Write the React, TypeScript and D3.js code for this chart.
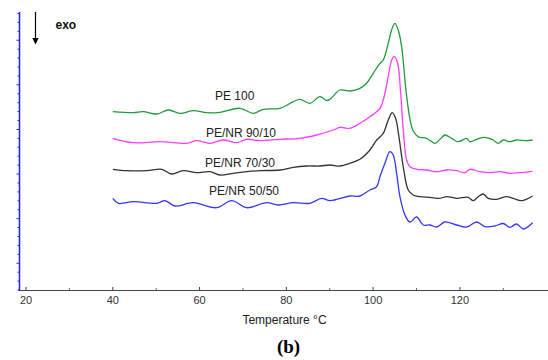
import React from "react";
import * as d3 from "d3";

// Temperature (°C) and heat-flow (arbitrary units, exo down)
const pe100: [number, number][] = [
  [40, 17.83], [44.72, 17.73], [47.03, 17.83], [50.12, 17.6], [52.79, 18.0], [55.48, 17.67],
  [58.55, 17.93], [61.64, 17.73], [64.7, 17.77], [69.31, 18.17], [72.37, 17.67], [74.68, 18.07],
  [78.53, 18.17], [81.59, 18.83], [83.13, 19.07], [85.44, 18.67], [87.74, 19.33], [89.28, 18.95],
  [90.05, 19.07], [92.35, 20.0], [94.65, 19.9], [96.96, 20.17], [98.5, 20.67], [100.02, 21.67],
  [101.57, 22.67], [102.33, 23.0], [103.48, 24.67], [104.26, 26.0], [105.02, 26.67], [105.78, 26.0],
  [106.57, 24.33], [107.33, 21.0], [107.72, 19.4], [108.48, 17.1], [109.24, 15.9], [110.39, 15.33],
  [112.33, 15.17], [114.24, 14.67], [115.39, 15.07], [116.54, 15.5], [118.09, 15.17], [119.61, 14.83],
  [121.54, 15.17], [122.3, 14.83], [123.85, 15.07], [125.76, 15.27], [127.67, 15.0], [128.83, 14.67],
  [129.98, 15.0], [131.52, 14.83], [133.06, 15.0], [135.37, 14.93], [136.75, 15.0],
];
const penr9010: [number, number][] = [
  [40, 15.17], [44.72, 14.73], [50.88, 14.83], [57.03, 14.67], [59.33, 14.93], [62.4, 14.67],
  [65.46, 15.0], [68.55, 14.73], [70.85, 15.07], [73.92, 14.93], [78.53, 15.07], [83.13, 15.17],
  [86.98, 15.5], [90.81, 16.0], [92.35, 16.27], [94.65, 16.17], [96.96, 16.67], [99.26, 17.33],
  [101.57, 18.17], [102.33, 19.0], [103.48, 21.33], [104.26, 23.0], [104.86, 23.33], [105.65, 22.67],
  [106.34, 19.67], [106.94, 16.0], [107.72, 13.0], [108.48, 12.33], [110.02, 12.07], [112.33, 12.0],
  [114.63, 11.83], [116.93, 12.0], [119.24, 11.93], [121.15, 11.73], [122.3, 12.07], [124.61, 11.83],
  [126.91, 11.73], [129.22, 11.83], [131.52, 11.67], [133.82, 11.73], [136.13, 11.83], [136.75, 11.9],
];
const penr7030: [number, number][] = [
  [40, 12.07], [43.2, 11.93], [47.81, 11.93], [51.27, 12.07], [53.57, 11.6], [56.24, 11.93],
  [59.33, 11.73], [62.4, 11.83], [64.7, 11.5], [67.76, 11.67], [70.85, 11.83], [73.92, 11.93],
  [78.53, 12.0], [81.59, 12.27], [84.68, 12.4], [87.74, 12.4], [90.05, 12.5], [92.35, 12.4],
  [94.65, 12.67], [96.96, 13.07], [99.26, 14.0], [100.81, 15.0], [102.33, 15.67], [103.48, 17.0],
  [104.4, 17.73], [105.18, 17.17], [105.94, 15.33], [106.94, 12.33], [108.09, 10.0], [109.24, 9.5],
  [110.78, 9.33], [113.09, 9.27], [115.39, 9.17], [116.93, 9.33], [119.24, 9.17], [121.91, 9.27],
  [123.07, 8.93], [124.22, 9.33], [125.37, 9.6], [126.52, 9.17], [128.46, 9.07], [130.76, 9.33],
  [132.28, 9.17], [134.22, 8.93], [136.75, 9.4],
];
const penr5050: [number, number][] = [
  [40, 9.17], [41.27, 8.67], [44.72, 8.83], [50.12, 8.67], [52.03, 8.93], [54.33, 8.4],
  [58.55, 8.73], [63.94, 8.23], [67.4, 8.93], [70.85, 8.23], [75.46, 8.73], [78.13, 8.5],
  [81.59, 8.73], [85.44, 8.67], [88.13, 9.17], [90.05, 8.93], [94.65, 9.4], [96.96, 9.4],
  [99.26, 10.0], [100.81, 10.33], [101.57, 11.33], [102.72, 12.67], [103.87, 13.83], [104.63, 13.5],
  [105.41, 11.67], [106.18, 9.33], [107.33, 7.5], [108.48, 6.8], [110.02, 7.3], [111.54, 6.5],
  [113.09, 6.5], [114.63, 6.3], [116.54, 6.8], [119.24, 6.5], [121.54, 6.3], [123.85, 6.8],
  [125.76, 6.33], [128.06, 6.4], [129.98, 6.65], [131.52, 6.27], [133.06, 6.6], [134.59, 6.1],
  [136.75, 6.73],
];

const seriesNames = ["PE 100", "PE/NR 90/10", "PE/NR 70/30", "PE/NR 50/50"];
const seriesData = [pe100, penr9010, penr7030, penr5050];
const seriesColors = ["#1f9a3c", "#ff3cff", "#333333", "#3535ff"];
// label anchors (temperature, heat-flow) for the in-plot annotations
const labelAnchors: [number, number][] = [[63.55, 19.05], [61.47, 15.35], [61.24, 12.35], [62.17, 9.5]];

const xMajorTicks = [20, 40, 60, 80, 100, 120];
const xMinorTicks = [30, 50, 70, 90, 110, 130];
const yTickStep = 0.892;

export default function App() {
  const W = 548, H = 360;
  const x = d3.scaleLinear().domain([18.5, 140.3]).range([19.5, 548]);
  const y = d3.scaleLinear().domain([0, 27.8]).range([290, 12]);
  const line = d3
    .line<[number, number]>()
    .x((d) => x(d[0]))
    .y((d) => y(d[1]))
    .curve(d3.curveCatmullRom.alpha(0.5));
  const yTicks = d3.range(0, 31.5).map((i) => i);
  const font = "'Liberation Sans', Arial, sans-serif";

  return (
    <svg
      width={W}
      height={H}
      style={{ position: "absolute", left: 0, top: 0, background: "#fff" }}
      fontFamily={font}
    >
      {/* curves */}
      {seriesData.map((s, i) => (
        <path key={i} d={line(s) || ""} fill="none" stroke={seriesColors[i]} strokeWidth={1.3} />
      ))}
      {/* labels */}
      {seriesNames.map((n, i) => (
        <text key={n} x={x(labelAnchors[i][0])} y={y(labelAnchors[i][1])} fontSize={12} fill="#222">
          {n}
        </text>
      ))}
      {/* x axis */}
      <line x1={19} x2={548} y1={290.5} y2={290.5} stroke="#444" strokeWidth={1.2} />
      {xMajorTicks.map((t) => (
        <g key={t}>
          <line x1={x(t)} x2={x(t)} y1={290} y2={287} stroke="#444" strokeWidth={1} />
          <text x={x(t)} y={304} fontSize={11} textAnchor="middle" fill="#333">
            {t}
          </text>
        </g>
      ))}
      {xMinorTicks.map((t) => (
        <line key={t} x1={x(t)} x2={x(t)} y1={290} y2={288} stroke="#666" strokeWidth={1} />
      ))}
      <text x={284.5} y={323.5} fontSize={12} textAnchor="middle" fill="#222">
        Temperature °C
      </text>
      {/* y axis */}
      <line x1={19.5} x2={19.5} y1={12} y2={291} stroke="#2020ff" strokeWidth={1.5} />
      {yTicks.map((i) => {
        const major = (i - 3) % 5 === 0;
        const yy = y(i * yTickStep);
        return (
          <line key={i} x1={19.5} x2={major ? 16.5 : 17.5} y1={yy} y2={yy} stroke="#2020ff" strokeWidth={1} />
        );
      })}
      {/* exo arrow */}
      <line x1={35.5} x2={35.5} y1={12} y2={39} stroke="#000" strokeWidth={1.2} />
      <path d="M32.3,38 L38.7,38 L35.5,44.5 Z" fill="#000" />
      <text x={55.5} y={29} fontSize={12} fontWeight="bold" fill="#111">
        exo
      </text>
      {/* panel label */}
      <text
        x={288.5}
        y={353}
        fontSize={19}
        fontWeight="bold"
        textAnchor="middle"
        fontFamily="'Liberation Serif', 'Times New Roman', serif"
        fill="#000"
      >
        (b)
      </text>
    </svg>
  );
}
